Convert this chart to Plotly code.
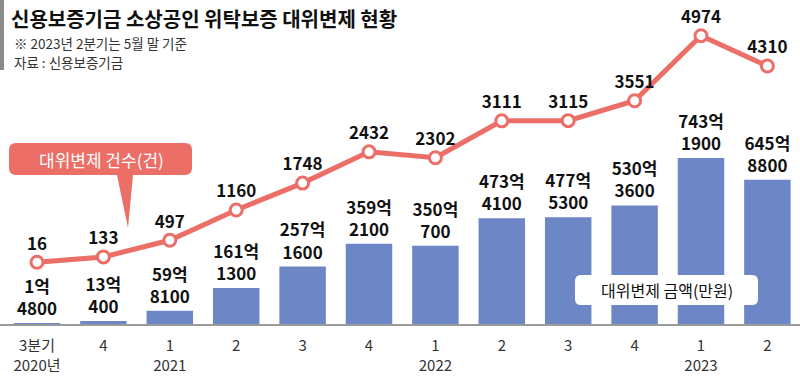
import plotly.graph_objects as go

quarters = ["3분기", "4", "1", "2", "3", "4", "1", "2", "3", "4", "1", "2"]
years = ["2020년", "", "2021", "", "", "", "2022", "", "", "", "2023", ""]
count = [16, 133, 497, 1160, 1748, 2432, 2302, 3111, 3115, 3551, 4974, 4310]
amount_eok = [1, 13, 59, 161, 257, 359, 350, 473, 477, 530, 743, 645]
amount_man = [4800, 400, 8100, 1300, 1600, 2100, 700, 4100, 5300, 3600, 1900, 8800]

W, H = 800, 376
MB = 52
PH = H - MB

RED = "#EB6E67"
BLUE = "#6D86C6"
NUM_FONT = "Liberation Sans Narrow, Arial Narrow, Noto Sans CJK KR"
KR = "Noto Sans CJK KR"

x = list(range(len(quarters)))
amounts = [e + m / 10000 for e, m in zip(amount_eok, amount_man)]
bar_text = [f"{e}억<br>{m}" for e, m in zip(amount_eok, amount_man)]
ticktext = [q + ("<br>" + y if y else "") for q, y in zip(quarters, years)]


def px(v):
    return v / W


def py(v):
    return 1 - v / PH


fig = go.Figure()
fig.add_trace(go.Bar(
    x=x, y=amounts, width=0.7, marker=dict(color=BLUE, line=dict(width=0)),
    text=bar_text, textposition="outside", constraintext="none",
    textfont=dict(family=NUM_FONT, size=17, color="#111", weight="bold"),
    cliponaxis=False, yaxis="y", hoverinfo="skip",
))
fig.add_trace(go.Scatter(
    x=x, y=count, mode="lines+markers+text", yaxis="y2",
    line=dict(color=RED, width=5),
    marker=dict(size=12, color="white", line=dict(color=RED, width=3)),
    text=[str(c) for c in count], textposition="top center",
    textfont=dict(family=NUM_FONT, size=17, color="#111", weight="bold"),
    cliponaxis=False, hoverinfo="skip",
))

shapes = []
shapes.append(dict(type="rect", xref="paper", yref="paper", x0=0, x1=px(4), y0=py(70), y1=py(0),
                   fillcolor="#8a8a8a", line=dict(width=0), layer="above"))


def rounded_path(x0, y0, x1, y1, r, tail=None):
    s = f"M {px(x0 + r)},{py(y0)} L {px(x1 - r)},{py(y0)} Q {px(x1)},{py(y0)} {px(x1)},{py(y0 + r)} "
    s += f"L {px(x1)},{py(y1 - r)} Q {px(x1)},{py(y1)} {px(x1 - r)},{py(y1)} "
    if tail:
        (bx1, bx0, tx, ty) = tail
        s += f"L {px(bx1)},{py(y1)} L {px(tx)},{py(ty)} L {px(bx0)},{py(y1)} "
    s += f"L {px(x0 + r)},{py(y1)} Q {px(x0)},{py(y1)} {px(x0)},{py(y1 - r)} "
    s += f"L {px(x0)},{py(y0 + r)} Q {px(x0)},{py(y0)} {px(x0 + r)},{py(y0)} Z"
    return s


shapes.append(dict(type="path", xref="paper", yref="paper",
                   path=rounded_path(9, 143, 192, 175, 7, tail=(133, 117, 128, 228)),
                   fillcolor=RED, line=dict(width=0), layer="above"))
shapes.append(dict(type="path", xref="paper", yref="paper",
                   path=rounded_path(575, 275, 758, 305, 6),
                   fillcolor="white", line=dict(width=0), layer="above"))


def ann(text, xp, yp, size, color, xanchor="left"):
    return dict(text=text, x=px(xp), y=py(yp), xref="paper", yref="paper",
                xanchor=xanchor, yanchor="middle", showarrow=False,
                font=dict(family=KR, size=size, color=color))


annotations = [
    ann("<b>신용보증기금 소상공인 위탁보증 대위변제 현황</b>", 9, 18, 20, "#111"),
    ann("※ 2023년 2분기는 5월 말 기준", 12, 43, 13.5, "#333"),
    ann("자료 : 신용보증기금", 12, 62, 13.5, "#333"),
    ann("대위변제 건수(건)", 101, 159, 17, "white", "center"),
    ann("대위변제 금액(만원)", 667, 290, 16, "#111", "center"),
]

x0 = -37 / 66.4
x1 = (W - 37) / 66.4
fig.update_layout(
    width=W, height=H,
    margin=dict(l=0, r=0, t=0, b=MB, autoexpand=False),
    paper_bgcolor="white", plot_bgcolor="white",
    showlegend=False,
    shapes=shapes, annotations=annotations,
    xaxis=dict(range=[x0, x1], tickmode="array", tickvals=x, ticktext=ticktext,
               showline=True, linecolor="#9a9a9a", linewidth=2, showgrid=False,
               zeroline=False, ticks="", automargin=False, ticklabelstandoff=7,
               tickfont=dict(family="Liberation Sans Narrow, " + KR, size=15, color="#333")),
    yaxis=dict(range=[0, 1450], visible=False, showgrid=False, zeroline=False,
               automargin=False),
    yaxis2=dict(range=[-1335, 5755], overlaying="y", visible=False, showgrid=False,
                zeroline=False, automargin=False),
)

fig.write_html("out.html", config={"displayModeBar": False},
               post_script="document.body.style.margin='0';")
